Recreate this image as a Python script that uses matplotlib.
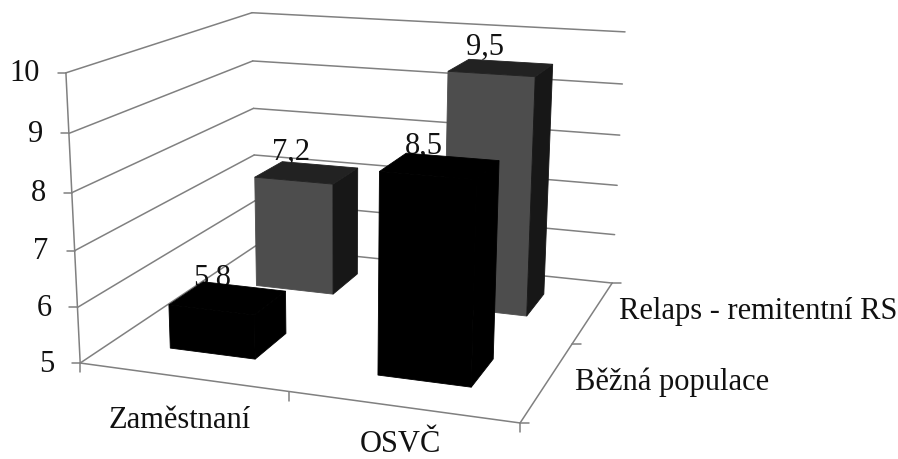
import numpy as np
import matplotlib
matplotlib.use("Agg")
import matplotlib.pyplot as plt
from matplotlib.patches import Polygon

categories = ["Zaměstnaní", "OSVČ"]
series_names = ["Běžná populace", "Relaps - remitentní RS"]
bezna = [5.8, 8.5]
relaps = [7.2, 9.5]
value_ticks = [5, 6, 7, 8, 9, 10]
value_labels = ["5", "6", "7", "8", "9", "10"]
data_labels = {"bezna": ["5,8", "8,5"], "relaps": ["7,2", "9,5"]}

plt.rcParams["font.family"] = ["Liberation Serif", "DejaVu Serif"]
W, H = 898, 459
FS = 22
fig = plt.figure(figsize=(W / 100, H / 100), dpi=100)
ax = fig.add_axes([0, 0, 1, 1])
ax.set_xlim(0, W)
ax.set_ylim(H, 0)
ax.axis("off")

# Calibrate a perspective camera: (category pos, depth pos, value) -> canvas
calib = [((0, 0, 5), (80, 363)), ((0, 0, 10), (66, 72.5)),
         ((0, 1, 10), (252, 13)), ((0, 1, 5), (256, 246)),
         ((1, 1, 10), (625, 32)), ((1, 1, 5), (612, 283)),
         ((1, 0, 5), (520, 423)), ((0, 0, 8), (72, 193)),
         ((0, 1, 8), (253, 108)), ((1, 1, 8), (620, 135))]
A, b = [], []
for (x, y, z), (u, v) in calib:
    A.append([x, y, z, 1, 0, 0, 0, 0, -u * x, -u * y, -u * z])
    A.append([0, 0, 0, 0, x, y, z, 1, -v * x, -v * y, -v * z])
    b += [u, v]
P = np.append(np.linalg.lstsq(np.array(A, float), np.array(b, float), rcond=None)[0], 1).reshape(3, 4)


def pr(x, y, z):
    p = P @ np.array([x, y, z, 1.0])
    return p[0] / p[2], p[1] / p[2]


GRID = "#808080"
LW = 1.1


def line(a, b, color=GRID, lw=LW, z=1):
    ax.plot([a[0], b[0]], [a[1], b[1]], color=color, lw=lw, zorder=z, solid_capstyle="round")


for v in value_ticks:
    line(pr(0, 0, v), pr(0, 1, v))
    line(pr(0, 1, v), pr(1, 1, v))
    u0, v0 = pr(0, 0, v)
    line((u0 - 8, v0), (u0, v0))
    ax.text(u0 - 26, v0 + 1, value_labels[value_ticks.index(v)], ha="right", va="center",
            fontsize=FS, color="#111111", zorder=2)
line(pr(0, 0, 5), pr(0, 0, 10))
line(pr(0, 0, 5), pr(1, 0, 5))
line(pr(1, 0, 5), pr(1, 1, 5))
for t in (0, 0.5, 1):
    u0, v0 = pr(t, 0, 5)
    line((u0, v0), (u0, v0 + 9))
for t in (0, 0.5, 1):
    u0, v0 = pr(1, t, 5)
    line((u0, v0), (u0 + 9, v0))

ax.text(180, 421, categories[0], ha="center", va="center", fontsize=FS, color="#111111")
ax.text(400, 444.5, categories[1], ha="center", va="center", fontsize=FS, color="#111111")
ax.text(575, 382, series_names[0], ha="left", va="center", fontsize=FS, color="#111111")
ax.text(619, 312, series_names[1], ha="left", va="center", fontsize=FS, color="#111111")

BW, BD = 0.21, 0.185
cat_pos = [0.25, 0.75]


def bar(xc, yc, val, label, front, top, side, z):
    x0, x1 = xc - BW / 2, xc + BW / 2
    y0, y1 = yc - BD / 2, yc + BD / 2
    faces = [([(x0, y0, 5), (x1, y0, 5), (x1, y0, val), (x0, y0, val)], front),
             ([(x1, y0, 5), (x1, y1, 5), (x1, y1, val), (x1, y0, val)], side),
             ([(x0, y0, val), (x1, y0, val), (x1, y1, val), (x0, y1, val)], top)]
    for pts, c in faces:
        ax.add_patch(Polygon([pr(*p) for p in pts], closed=True, fc=c, ec=c, lw=0.6, zorder=z))
    u, v = pr(xc, yc, val)
    ax.text(u - 16, v - 20, label, ha="center", va="center", fontsize=FS, color="#111111", zorder=z - 0.5)


for i in range(2):
    bar(cat_pos[i], 0.755, relaps[i], data_labels["relaps"][i], "#4d4d4d", "#222222", "#171717", 5 + i)
for i in range(2):
    bar(cat_pos[i], 0.25, bezna[i], data_labels["bezna"][i], "#000000", "#000000", "#000000", 8 + i)

fig.savefig("out.png", dpi=100)
